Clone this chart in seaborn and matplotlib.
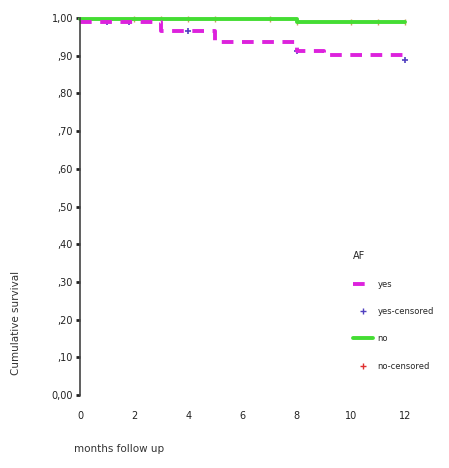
# kaplan-meier style survival curves, AF vs no AF

import matplotlib
matplotlib.use("Agg")
import matplotlib.pyplot as plt
import seaborn as sns
import pandas as pd
from matplotlib.lines import Line2D

# survival steps
af_months = [0, 3, 5, 8, 9, 12]
af_surv = [0.99, 0.965, 0.937, 0.912, 0.903, 0.888]
noaf_months = [0, 8, 12]
noaf_surv = [0.998, 0.989, 0.989]

# censored cases
af_cens_months = [1, 1.8, 4, 8, 12]
af_cens_surv = [0.99, 0.99, 0.965, 0.912, 0.888]
noaf_cens_months = [2, 3, 4, 5, 7, 8, 10, 11, 12]
noaf_cens_surv = [0.998, 0.998, 0.998, 0.998, 0.998, 0.989, 0.989, 0.989, 0.989]

x_ticks = [0, 2, 4, 6, 8, 10, 12]
y_ticks = [0.0, 0.1, 0.2, 0.3, 0.4, 0.5, 0.6, 0.7, 0.8, 0.9, 1.0]
y_ticklabels = ["0,00", ",10", ",20", ",30", ",40", ",50", ",60", ",70", ",80", ",90", "1,00"]

MAGENTA = "#dd22dd"
GREEN = "#44dd33"


def main():
    sns.set_style("white")
    plt.rcParams["font.family"] = ["DejaVu Sans"]

    fig = plt.figure(figsize=(4.49, 4.68), dpi=100)
    ax = fig.add_axes([80 / 449, 1 - 395 / 468, 325 / 449, 377 / 468])

    af = pd.DataFrame({"month": af_months, "surv": af_surv})
    no = pd.DataFrame({"month": noaf_months, "surv": noaf_surv})

    sns.lineplot(data=no, x="month", y="surv", ax=ax, color=GREEN, lw=2.8,
                 drawstyle="steps-post", clip_on=False)
    sns.lineplot(data=af, x="month", y="surv", ax=ax, color=MAGENTA, lw=2.8,
                 drawstyle="steps-post", clip_on=False)
    ax.lines[-1].set_linestyle((0, (3, 2.2)))

    sns.scatterplot(x=noaf_cens_months, y=noaf_cens_surv, ax=ax, marker="|",
                    color="#c8a060", s=18, linewidth=1, clip_on=False)
    sns.scatterplot(x=af_cens_months, y=af_cens_surv, ax=ax, marker="+",
                    color="#5040c0", s=22, linewidth=1.2, clip_on=False)

    ax.set_xlim(0, 12)
    ax.set_ylim(0, 1)
    ax.set_xticks(x_ticks)
    ax.set_xticklabels([str(t) for t in x_ticks], fontsize=7)
    ax.set_yticks(y_ticks)
    ax.set_yticklabels(y_ticklabels, fontsize=7)
    ax.tick_params(axis="y", left=True, length=3, width=2, pad=2, colors="#222222")
    ax.tick_params(axis="x", bottom=False, pad=8, colors="#222222")

    for side in ["top", "right", "bottom"]:
        ax.spines[side].set_visible(False)
    ax.spines["left"].set_color("#444444")
    ax.spines["left"].set_linewidth(1.2)

    ax.set_xlabel("months follow up", fontsize=7.5, color="#333333")
    ax.xaxis.set_label_coords(0.12, -0.13)
    ax.set_ylabel("Cumulative survival", fontsize=7.5, color="#333333")
    ax.yaxis.set_label_coords(-0.18, 0.19)

    # legend squeezed against the right edge
    handles = [
        Line2D([], [], color=MAGENTA, lw=2.8, linestyle=(0, (3, 2.2))),
        Line2D([], [], color="#5040c0", marker="+", lw=0, markersize=5),
        Line2D([], [], color=GREEN, lw=2.8),
        Line2D([], [], color="#e03030", marker="+", lw=0, markersize=5),
    ]
    labels = ["yes", "yes-censored", "no", "no-censored"]
    fig.legend(handles, labels, title="AF", loc="upper left",
               bbox_to_anchor=(350 / 449, 1 - 248 / 468), frameon=False,
               fontsize=6, title_fontsize=7, handlelength=2.4, handletextpad=0.5,
               labelspacing=2.2, alignment="left", borderaxespad=0)

    fig.savefig("out.png", dpi=100)


if __name__ == "__main__":
    main()
